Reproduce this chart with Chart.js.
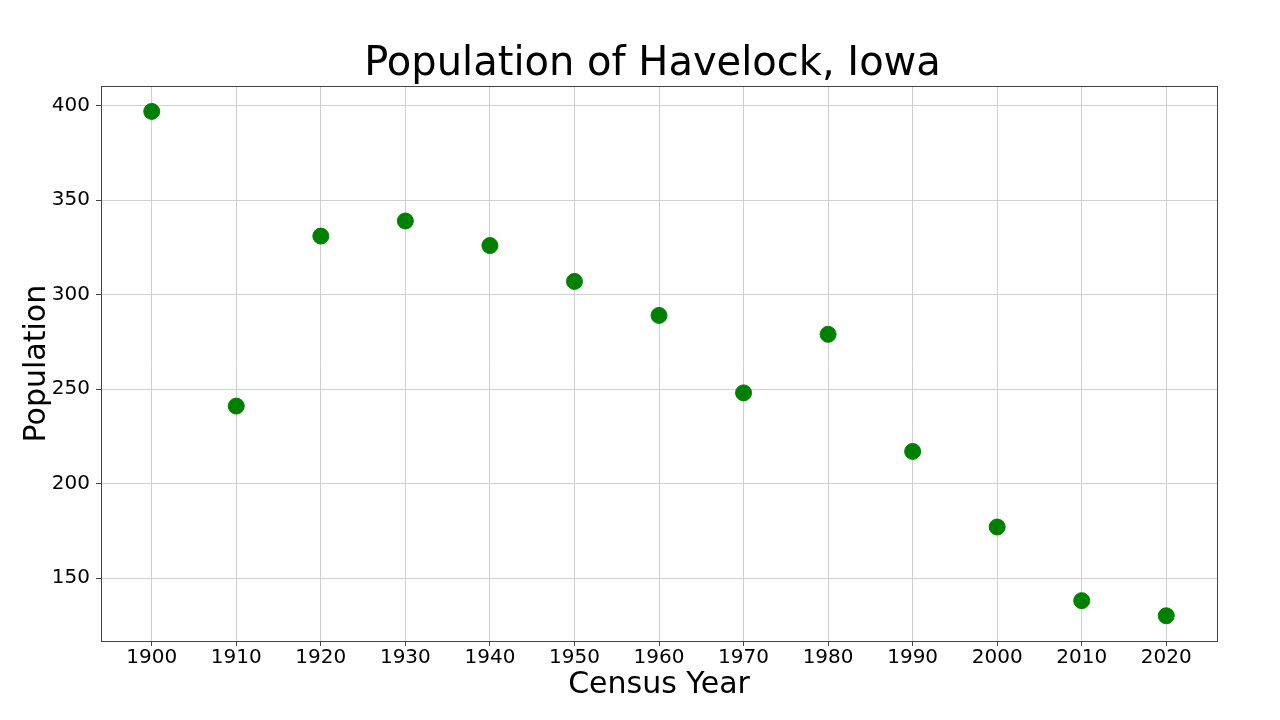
<!DOCTYPE html>
<html>
<head>
<meta charset="utf-8">
<script src="https://cdn.jsdelivr.net/npm/chart.js@4"></script>
<style>
  html, body { margin: 0; padding: 0; background: #fff; }
</style>
</head>
<body>
<canvas id="popChart" width="1280" height="720"></canvas>
<script>
const years = [1900, 1910, 1920, 1930, 1940, 1950, 1960, 1970, 1980, 1990, 2000, 2010, 2020];
const population = [397, 241, 331, 339, 326, 307, 289, 248, 279, 217, 177, 138, 130];
const yTicks = [150, 200, 250, 300, 350, 400];

const font = "DejaVu Sans";

// matplotlib-style box around the plot area, title centred over the axes
const frame = {
  id: "frame",
  afterLayout(chart) {
    const t = chart.titleBlock;
    if (t) {
      t.left = chart.chartArea.left - 13;
      t.right = chart.chartArea.right;
    }
  },
  afterDatasetsDraw(chart) {
    const { ctx, chartArea: a } = chart;
    ctx.save();
    ctx.strokeStyle = "#444";
    ctx.lineWidth = 1;
    ctx.strokeRect(Math.round(a.left) + 0.5, Math.round(a.top) + 0.5,
      Math.round(a.right - a.left), Math.round(a.bottom - a.top));
    ctx.restore();
  },
};

new Chart(document.getElementById("popChart"), {
  type: "scatter",
  data: {
    datasets: [
      {
        label: "Population",
        data: years.map((y, i) => ({ x: y, y: population[i] })),
        backgroundColor: "#008000",
        borderColor: "#008000",
        pointRadius: 8,
        pointHoverRadius: 8,
      },
    ],
  },
  options: {
    responsive: false,
    animation: false,
    layout: { padding: { top: 43, left: 22, right: 63, bottom: 20 } },
    plugins: {
      legend: { display: false },
      tooltip: { enabled: false },
      title: {
        display: true,
        text: "Population of Havelock, Iowa",
        color: "#000",
        font: { family: font, size: 40, weight: "normal", lineHeight: 1.08 },
        padding: { top: 0, bottom: 0 },
      },
    },
    scales: {
      x: {
        type: "linear",
        min: 1894,
        max: 2026,
        afterBuildTicks: (axis) => { axis.ticks = years.map((v) => ({ value: v })); },
        ticks: {
          color: "#000",
          font: { family: font, size: 20 },
          padding: 0,
          maxRotation: 0,
          callback: (v) => String(v),
        },
        grid: { color: "#cfcfcf", tickColor: "#444", tickLength: 5 },
        border: { display: false },
        title: {
          display: true,
          text: "Census Year",
          color: "#000",
          font: { family: font, size: 30, lineHeight: 1.0 },
          padding: { top: 0, bottom: 0 },
        },
      },
      y: {
        min: 116.65,
        max: 410.35,
        afterBuildTicks: (axis) => { axis.ticks = yTicks.map((v) => ({ value: v })); },
        afterFit: (axis) => { axis.width = 79; },
        ticks: {
          color: "#000",
          font: { family: font, size: 20 },
          padding: 6,
          callback: (v) => String(v),
        },
        grid: { color: "#cfcfcf", tickColor: "#444", tickLength: 5 },
        border: { display: false },
        title: {
          display: true,
          text: "Population",
          color: "#000",
          font: { family: font, size: 30, lineHeight: 1.0 },
          padding: { top: 0, bottom: 0 },
        },
      },
    },
  },
  plugins: [frame],
});
</script>
</body>
</html>
